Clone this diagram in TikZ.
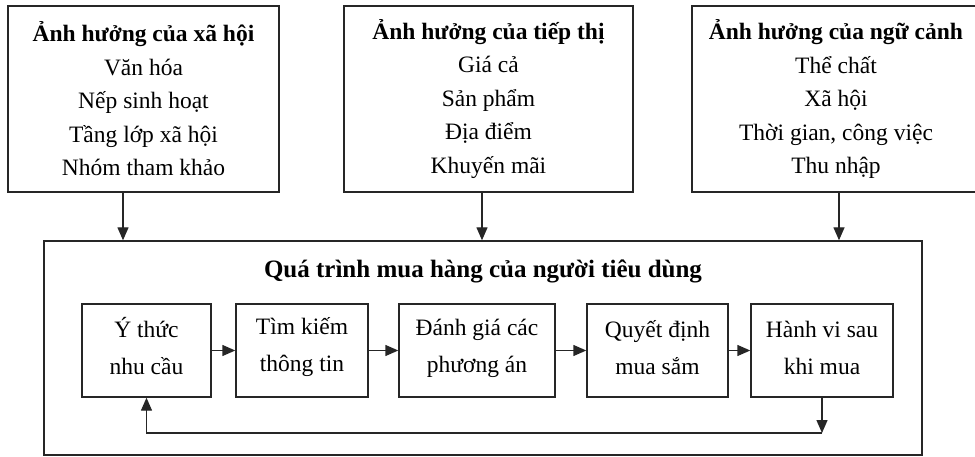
\documentclass[tikz,border=0pt]{standalone}
\usepackage{fontspec}
\setmainfont{Liberation Serif}
\usetikzlibrary{arrows.meta}
\tikzset{
  box/.style={draw, line width=1.4pt, draw=black!85, rectangle, inner sep=0pt, align=center},
  topbox/.style={box, font=\fontsize{23.5}{33.5}\selectfont},
  stepbox/.style={box},
  steptext/.style={inner sep=0pt, align=center, font=\fontsize{23.5}{37}\selectfont},
  arr/.style={line width=1.4pt, draw=black!85, -{Triangle[length=13pt,width=11pt]}},
}
\begin{document}
\begin{tikzpicture}[x=1pt,y=-1pt]
\useasboundingbox (0,0) rectangle (975,457);
% top boxes
\node[topbox, minimum width=271pt, minimum height=186pt] (b1) at (143.5,99)
  {\textbf{Ảnh hưởng của xã hội}\\Văn hóa\\Nếp sinh hoạt\\Tầng lớp xã hội\\Nhóm tham khảo};
\node[topbox, minimum width=289pt, minimum height=186pt] (b2) at (488.5,99)
  {\textbf{Ảnh hưởng của tiếp thị}\\Giá cả\\Sản phẩm\\Địa điểm\\Khuyến mãi};
\node[topbox, minimum width=288pt, minimum height=186pt] (b3) at (836,99)
  {\textbf{Ảnh hưởng của ngữ cảnh}\\Thể chất\\Xã hội\\Thời gian, công việc\\Thu nhập};
% big box
\node[box, minimum width=878pt, minimum height=214pt] (big) at (483,348) {};
\node[font=\fontsize{25}{28}\bfseries\selectfont, anchor=center] (title) at (483,271)
  {Quá trình mua hàng của người tiêu dùng};
% steps
\node[stepbox, minimum width=129pt, minimum height=93pt] (A) at (146.5,350.5) {};
\node[stepbox, minimum width=132pt, minimum height=93pt] (B) at (302,350.5) {};
\node[stepbox, minimum width=156pt, minimum height=93pt] (C) at (477,350.5) {};
\node[stepbox, minimum width=141pt, minimum height=93pt] (D) at (657.5,350.5) {};
\node[stepbox, minimum width=142pt, minimum height=93pt] (E) at (822,350.5) {};
\node[steptext] (At) at ([yshift=4pt]A.center) {Ý thức\\nhu cầu};
\node[steptext] (Bt) at ([yshift=3pt]B.center) {Tìm kiếm\\thông tin};
\node[steptext] (Ct) at ([yshift=2pt]C.center) {Đánh giá các\\phương án};
\node[steptext] (Dt) at ([yshift=3pt]D.center) {Quyết định\\mua sắm};
\node[steptext] (Et) at ([yshift=3pt]E.center) {Hành vi sau\\khi mua};
% coordinates
\coordinate (x1) at (123,0);
\coordinate (x2) at (482,0);
\coordinate (x3) at (839,0);
\coordinate (fb) at (0,433);
% arrows from top boxes
\draw[arr] (b1.south -| x1) -- (big.north -| x1);
\draw[arr] (b2.south -| x2) -- (big.north -| x2);
\draw[arr] (b3.south -| x3) -- (big.north -| x3);
% chain
\draw[arr] (A) -- (B);
\draw[arr] (B) -- (C);
\draw[arr] (C) -- (D);
\draw[arr] (D) -- (E);
% feedback
\draw[arr] (E.south) -- (E.south |- fb);
\draw[arr] (E.south |- fb) -- (A.south |- fb) -- (A.south);
\end{tikzpicture}
\end{document}
